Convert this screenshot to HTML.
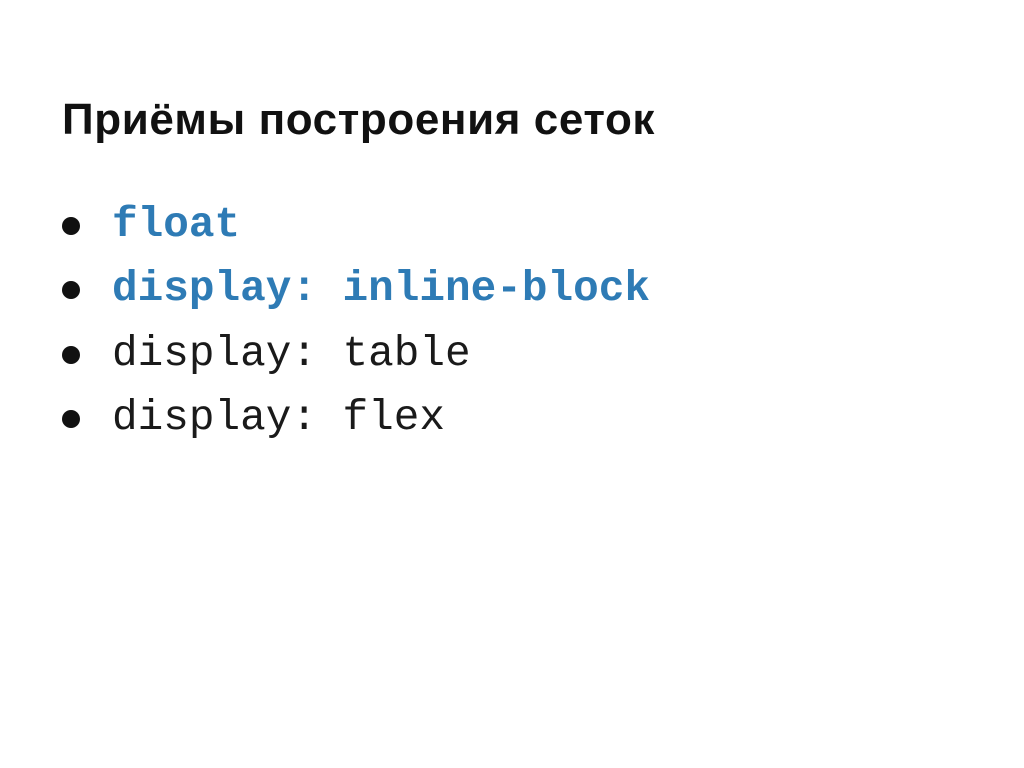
<!DOCTYPE html>
<html><head><meta charset="utf-8"><style>
body{margin:0;width:1024px;height:768px;background:#fff;position:relative;overflow:hidden}
h1{position:absolute;left:62px;top:95px;margin:0;font:bold 44px "Liberation Sans","DejaVu Sans",sans-serif;color:#111;letter-spacing:0.6px}
.li{position:absolute;left:112px;font:42.7px "Liberation Mono","DejaVu Sans Mono",monospace;color:#1a1a1a;white-space:pre}
.b{color:#2e7bb5;font-weight:bold}
.dot{position:absolute;left:62px;width:18px;height:18px;border-radius:50%;background:#111}
</style></head><body>
<h1>Приёмы построения сеток</h1>
<div class="dot" style="top:217px"></div>
<div class="dot" style="top:281px"></div>
<div class="dot" style="top:346px"></div>
<div class="dot" style="top:410px"></div>
<div class="li" style="top:200px"><span class="b">float</span></div>
<div class="li" style="top:264px"><span class="b">display: inline-block</span></div>
<div class="li" style="top:329px">display: table</div>
<div class="li" style="top:393px">display: flex</div>
</body></html>
